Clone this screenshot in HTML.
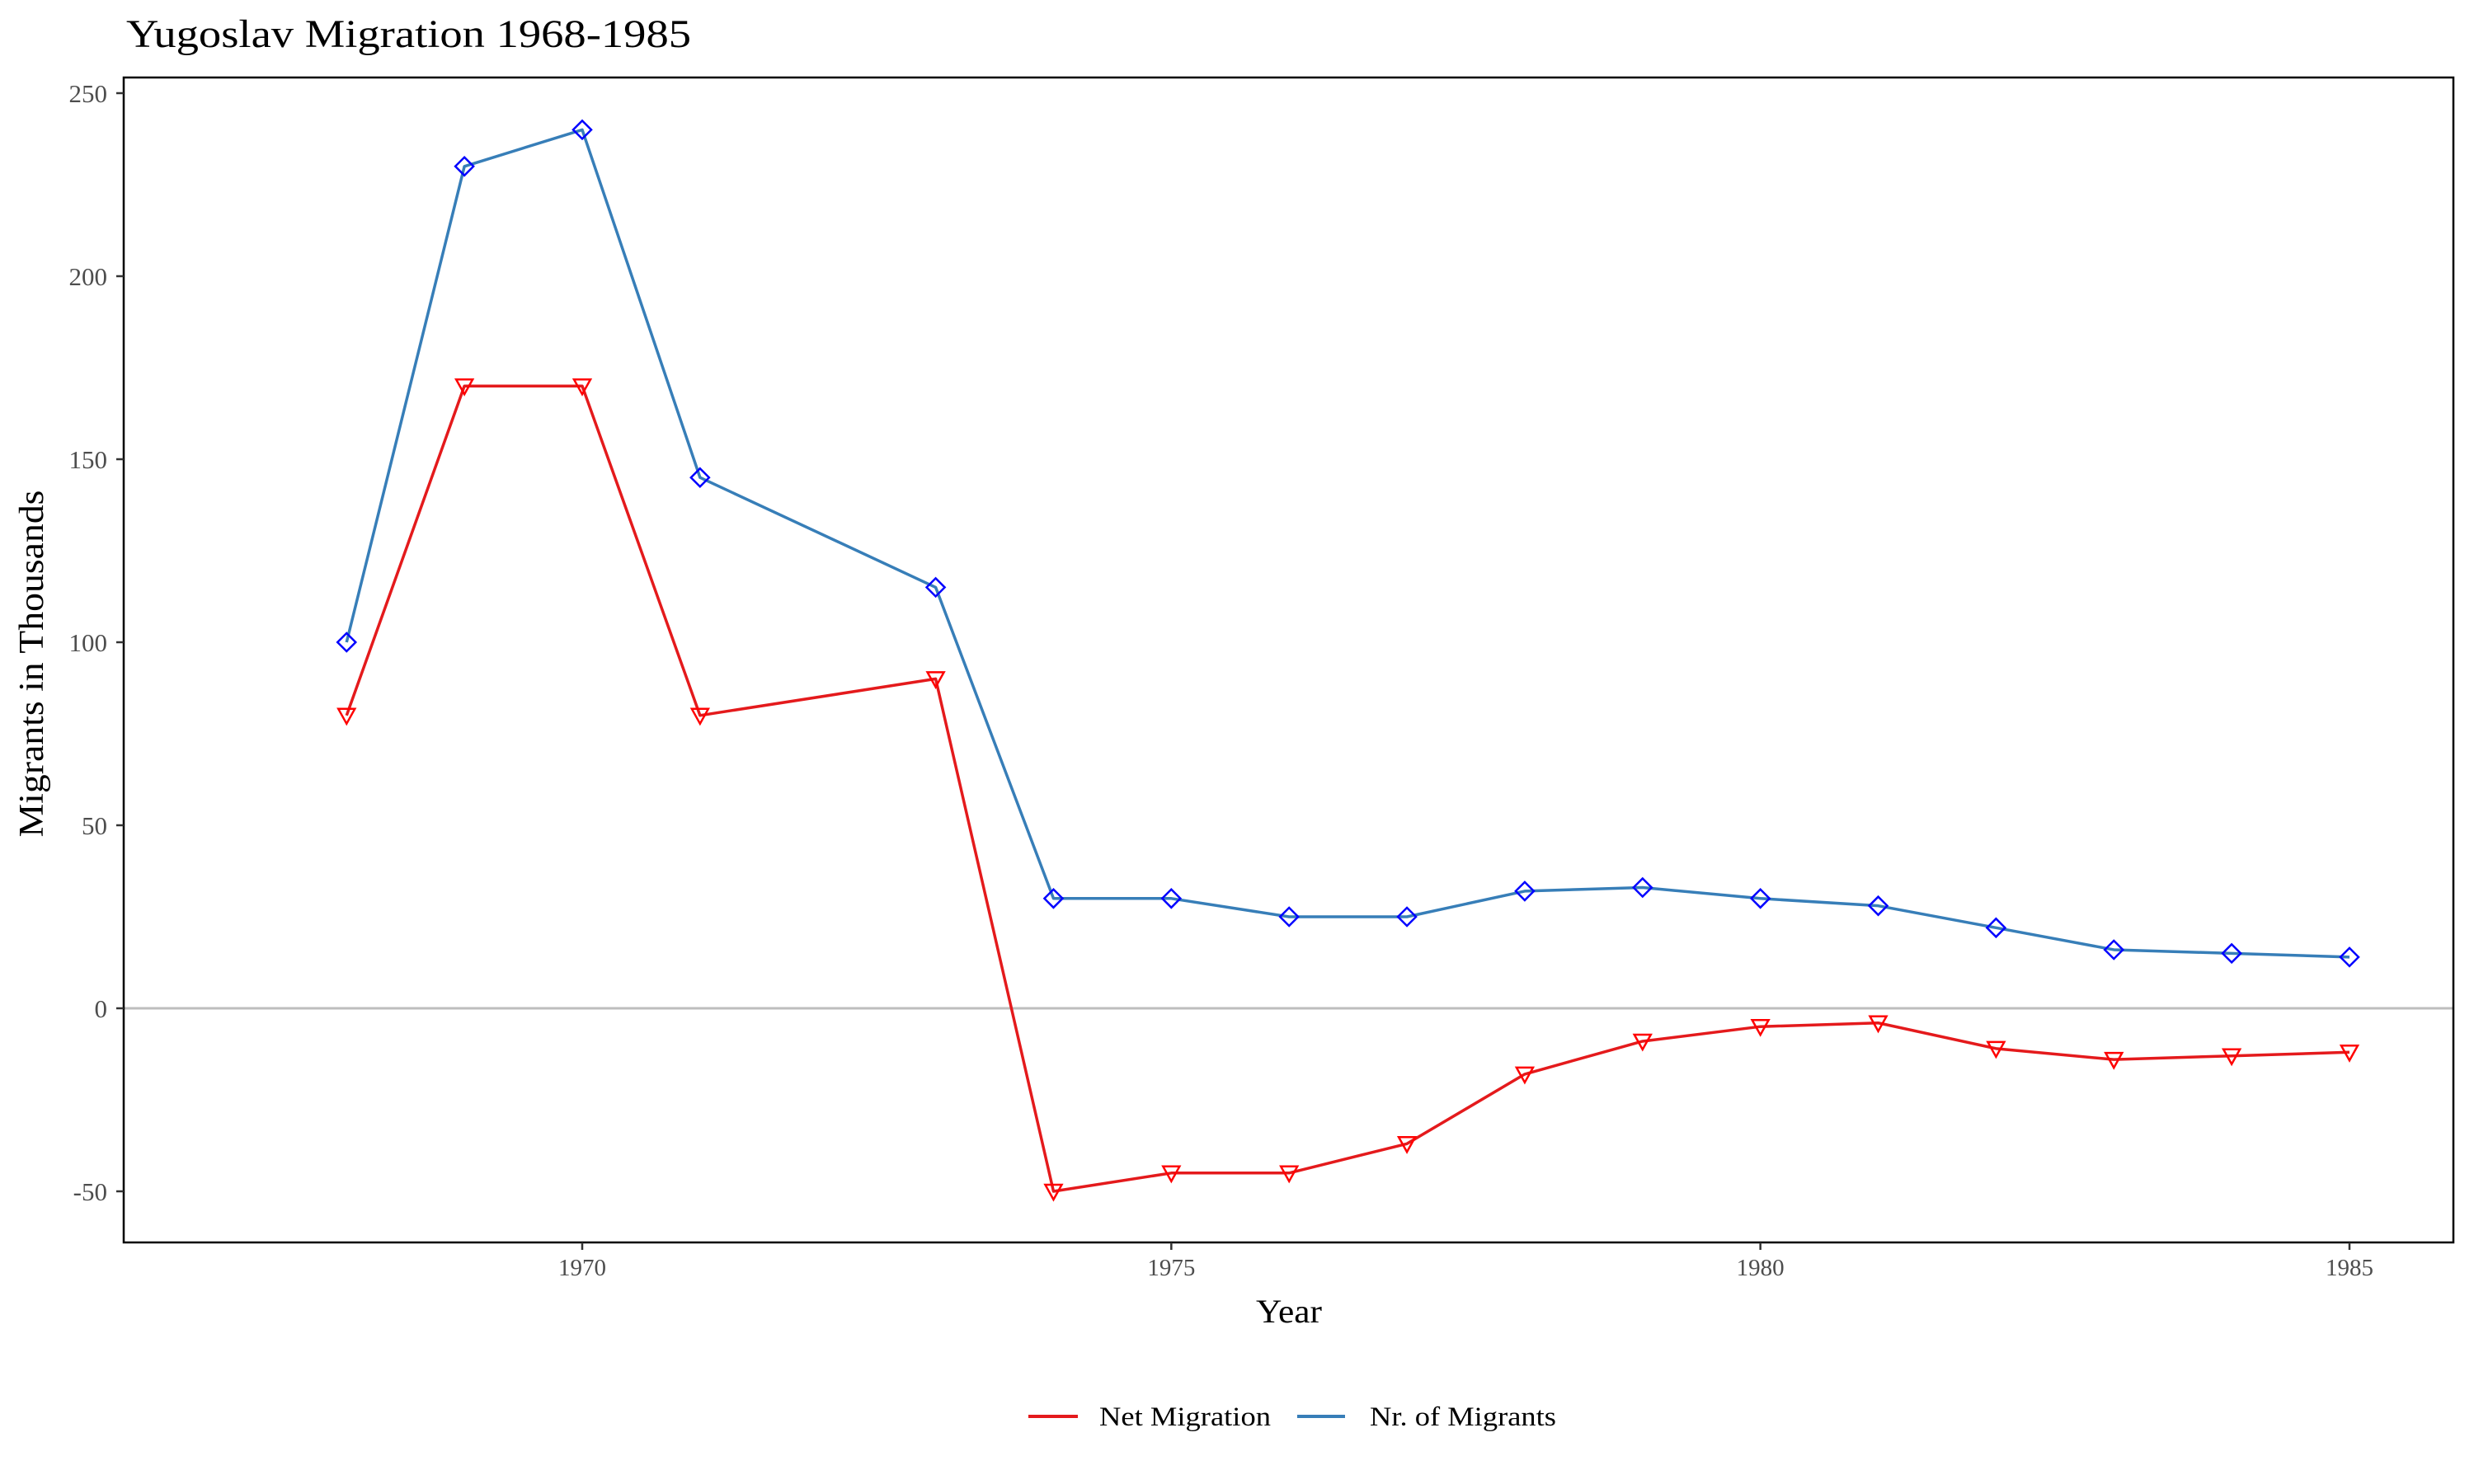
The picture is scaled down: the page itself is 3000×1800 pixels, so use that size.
<!DOCTYPE html>
<html><head><meta charset="utf-8"><style>
html,body{margin:0;padding:0;background:#fff;}
svg{display:block;font-family:"Liberation Serif",serif;}
</style></head><body>
<svg id="chart" width="3000" height="1800" viewBox="0 0 3000 1800" xmlns="http://www.w3.org/2000/svg">
<text x="153" y="57" font-size="48" textLength="685" lengthAdjust="spacingAndGlyphs" fill="#000">Yugoslav Migration 1968-1985</text>
<g id="plot"></g>
<text x="1563" y="1604" font-size="40" textLength="80" lengthAdjust="spacingAndGlyphs" text-anchor="middle" fill="#000">Year</text>
<text transform="translate(52,805) rotate(-90)" font-size="42" textLength="421" lengthAdjust="spacingAndGlyphs" text-anchor="middle" fill="#000">Migrants in Thousands</text>
<g>
<line x1="1247" y1="1718" x2="1307" y2="1718" stroke="#e41a1c" stroke-width="4"/>
<text x="1333" y="1729" font-size="33" textLength="208" lengthAdjust="spacingAndGlyphs" fill="#000">Net Migration</text>
<line x1="1573" y1="1718" x2="1631" y2="1718" stroke="#377eb8" stroke-width="4"/>
<text x="1661" y="1729" font-size="33" textLength="226" lengthAdjust="spacingAndGlyphs" fill="#000">Nr. of Migrants</text>
</g>
</svg>
<script>
const years=[1968,1969,1970,1971,1973,1974,1975,1976,1977,1978,1979,1980,1981,1982,1983,1984,1985];
const migrants=[100,230,240,145,115,30,30,25,25,32,33,30,28,22,16,15,14];
const netMigration=[80,170,170,80,90,-50,-45,-45,-37,-18,-9,-5,-4,-11,-14,-13,-12];
const xTicks=[1970,1975,1980,1985];
const yTicks=[-50,0,50,100,150,200,250];

const NS="http://www.w3.org/2000/svg";
const L=150,R=2975,T=94,B=1507;
function xs(v){return 706+(v-1970)*(2849-706)/15;}
function ys(v){return 1223-v*222/50;}
const g=document.getElementById('plot');
function mk(tag,attrs,parent){const e=document.createElementNS(NS,tag);for(const k in attrs)e.setAttribute(k,attrs[k]);(parent||g).appendChild(e);return e;}

const zero=mk('line',{x1:L,x2:R,y1:ys(0),y2:ys(0),stroke:'#bebebe','stroke-width':3});



const frame=mk('rect',{x:L,y:T,width:R-L,height:B-T,fill:'none',stroke:'#000','stroke-width':2.5});



yTicks.forEach(v=>{
  const t=mk('line',{x1:L-9,x2:L,y1:ys(v),y2:ys(v),stroke:'#333','stroke-width':2.5});
  
  
  const tx=mk('text',{x:L-20,y:ys(v)+11,'font-size':31,'text-anchor':'end',fill:'#4d4d4d'});
  tx.textContent=v;
  
  
});
xTicks.forEach(v=>{
  const t=mk('line',{x1:xs(v),x2:xs(v),y1:B,y2:B+9,stroke:'#333','stroke-width':2.5});
  
  
  const tx=mk('text',{x:xs(v),y:B+40,'font-size':29,'text-anchor':'middle',fill:'#4d4d4d'});
  tx.textContent=v;
  
  
});

function series(vals,color,mcolor,name,shape){
  const pts=years.map((y,i)=>xs(y)+','+ys(vals[i])).join(' ');
  const pl=mk('polyline',{points:pts,fill:'none',stroke:color,'stroke-width':3.5,'stroke-linejoin':'round'});
  
  
  years.forEach((y,i)=>{
    const cx=xs(y),cy=ys(vals[i]);let p;
    if(shape==='diamond'){
      p=mk('polygon',{points:`${cx},${cy-11} ${cx+11},${cy} ${cx},${cy+11} ${cx-11},${cy}`,fill:'none',stroke:mcolor,'stroke-width':2.5});
    }else{
      p=mk('polygon',{points:`${cx-10},${cy-8} ${cx+10},${cy-8} ${cx},${cy+10}`,fill:'none',stroke:mcolor,'stroke-width':2.5});
    }
    
    
  });
}
series(migrants,'#377eb8','#0000ff','nr-of-migrants','diamond');
series(netMigration,'#e41a1c','#ff0000','net-migration','triangle');
</script>
</body></html>
